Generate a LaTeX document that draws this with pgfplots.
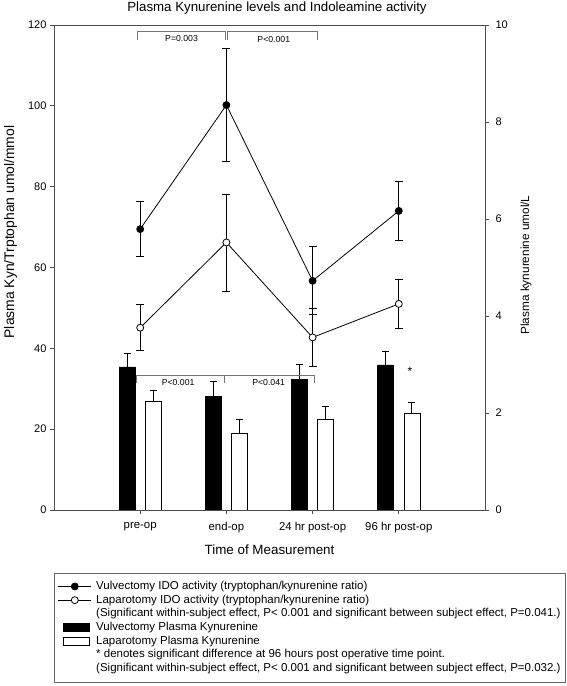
\documentclass[border=0pt]{standalone}
\usepackage{fontspec}
\setmainfont{Liberation Sans}
\usepackage{pgfplots}
\pgfplotsset{compat=1.18}
\definecolor{axgray}{gray}{0.3}
\definecolor{brgray}{gray}{0.45}
\pgfplotsset{
  mylinelegend/.style={legend image code/.code={%
    \draw[mark repeat=2,mark phase=2,##1] plot coordinates {(0pt,0pt) (16.5pt,0pt) (33pt,0pt)};}},
  mybarlegend/.style={legend image code/.code={%
    \path[draw=none, fill=none] (0pt,-4pt) rectangle (33pt,4pt);
    \draw[##1, line width=0.6pt] (5pt,-4pt) rectangle (31pt,4pt);}},
}
\begin{document}
\begin{tikzpicture}[x=1pt,y=1pt]
\path[use as bounding box] (0,0) rectangle (567,686);
% ---------- right axis: plasma kynurenine bars ----------
\begin{axis}[
  at={(54pt,176pt)}, anchor=south west,
  scale only axis, width=431pt, height=485pt,
  xmin=0, xmax=5, ymin=0, ymax=10,
  axis y line*=right, axis x line=none,
  ytick={0,2,...,10},
  tick align=outside, major tick length=4pt,
  axis line style={axgray, line width=0.8pt},
  tick style={axgray, line width=0.8pt},
  yticklabel style={font=\fontsize{11}{13}\selectfont, xshift=3pt},
  /pgf/number format/assume math mode=true,
  clip=false,
]
% Vulvectomy plasma kynurenine (black bars, left of each time point)
\addplot[ybar, bar width=16pt, bar shift=0pt, fill=black, draw=black, line width=0.6pt,
  error bars/.cd, y dir=plus, y explicit,
  error bar style={black, line width=0.8pt},
  error mark options={rotate=90, mark size=3.5pt, line width=0.8pt}]
  coordinates {(0.849,2.95) +- (0,0.27) (1.849,2.34) +- (0,0.31) (2.849,2.69) +- (0,0.31) (3.849,2.99) +- (0,0.27)};
% Laparotomy plasma kynurenine (white bars, right of each time point)
\addplot[ybar, bar width=16pt, bar shift=0pt, fill=white, draw=black, line width=0.6pt,
  error bars/.cd, y dir=plus, y explicit,
  error bar style={black, line width=0.8pt},
  error mark options={rotate=90, mark size=3.5pt, line width=0.8pt}]
  coordinates {(1.151,2.25) +- (0,0.21) (2.151,1.59) +- (0,0.27) (3.151,1.87) +- (0,0.26) (4.151,1.99) +- (0,0.23)};
\end{axis}
% ---------- left axis: IDO activity lines ----------
\begin{axis}[
  at={(54pt,176pt)}, anchor=south west,
  scale only axis, width=431pt, height=485pt,
  xmin=0, xmax=5, ymin=0, ymax=120,
  xtick={1,2,3,4}, xticklabels={pre-op,end-op,24 hr post-op,96 hr post-op},
  ytick={0,20,...,120},
  tick align=outside, xtick pos=bottom, ytick pos=left,
  major tick length=4pt,
  axis line style={axgray, line width=0.8pt},
  tick style={axgray, line width=0.8pt},
  yticklabel style={font=\fontsize{11}{13}\selectfont},
  xticklabel style={font=\fontsize{11.4}{13}\selectfont, yshift=-5pt},
  /pgf/number format/assume math mode=true,
  clip=false,
  legend style={at={(0,-0.1293)}, anchor=north west, draw=black!60, line width=0.8pt,
    font=\fontsize{11.5}{13}\selectfont, inner xsep=3.5pt, inner ysep=6.5pt,
    row sep=0pt, column sep=3.5pt,
    nodes={inner xsep=1pt, inner ysep=1.35pt, text height=8.5pt, text depth=2.5pt}},
  legend cell align=left,
]
\addplot[black, line width=0.8pt, mark=*, mark size=3.5pt, mark options={fill=black, solid}, mylinelegend,
  error bars/.cd, y dir=both, y explicit,
  error bar style={black, line width=0.8pt},
  error mark options={rotate=90, mark size=4pt, line width=0.8pt}]
  coordinates {(1,69.5) +- (0,6.8) (2,100.2) +- (0,14) (3,56.7) +- (0,8.4) (4,74) +- (0,7.3)};
\addlegendentry{Vulvectomy IDO activity (tryptophan/kynurenine ratio)}
\addplot[black, line width=0.8pt, mark=*, mark size=3.5pt, mark options={fill=white, solid}, mylinelegend,
  error bars/.cd, y dir=both, y explicit,
  error bar style={black, line width=0.8pt},
  error mark options={rotate=90, mark size=4pt, line width=0.8pt}]
  coordinates {(1,45.1) +- (0,5.7) (2,66.2) +- (0,12) (3,42.7) +- (0,7.2) (4,51) +- (0,6.1)};
\addlegendentry{Laparotomy IDO activity (tryptophan/kynurenine ratio)}
\addlegendimage{empty legend}
\addlegendentry{(Significant within-subject effect, P< 0.001 and significant between subject effect, P=0.041.)}
\addlegendimage{mybarlegend, fill=black, draw=black}
\addlegendentry{Vulvectomy Plasma Kynurenine}
\addlegendimage{mybarlegend, fill=white, draw=black}
\addlegendentry{Laparotomy Plasma Kynurenine}
\addlegendimage{empty legend}
\addlegendentry{* denotes significant difference at 96 hours post operative time point.}
\addlegendimage{empty legend}
\addlegendentry{(Significant within-subject effect, P< 0.001 and significant between subject effect, P=0.032.)}
% significance brackets (top)
\draw[brgray, line width=0.8pt] (axis cs:0.97,116.3) -- (axis cs:0.97,118.3) -- (axis cs:1.99,118.3) -- (axis cs:1.99,116.3);
\draw[brgray, line width=0.8pt] (axis cs:2.01,116.3) -- (axis cs:2.01,118.3) -- (axis cs:3.05,118.3) -- (axis cs:3.05,116.3);
\node[font=\fontsize{8.7}{10}\selectfont] at (axis cs:1.48,116.6) {P=0.003};
\node[font=\fontsize{8.7}{10}\selectfont] at (axis cs:2.55,116.3) {P<0.001};
% significance brackets (bars)
\draw[brgray, line width=0.8pt] (axis cs:0.96,31.4) -- (axis cs:0.96,33.2) -- (axis cs:3.02,33.2) -- (axis cs:3.02,31.4);
\draw[brgray, line width=0.8pt] (axis cs:1.98,33.2) -- (axis cs:1.98,31.4);
\node[font=\fontsize{8.7}{10}\selectfont] at (axis cs:1.44,31.5) {P<0.001};
\node[font=\fontsize{8.7}{10}\selectfont] at (axis cs:2.49,31.5) {P<0.041};
\node[font=\fontsize{12}{13}\selectfont] at (axis cs:4.13,34.3) {*};
\end{axis}
% titles and labels
\node[font=\fontsize{13.3}{15}\selectfont] at (277,678) {Plasma Kynurenine levels and Indoleamine activity};
\node[font=\fontsize{13.4}{15}\selectfont] at (269.5,136) {Time of Measurement};
\node[font=\fontsize{13.9}{15}\selectfont, rotate=90] at (10.5,454) {Plasma Kyn/Trptophan umol/mmol};
\node[font=\fontsize{11.8}{14}\selectfont, rotate=90] at (526,421) {Plasma kynurenine umol/L};
\end{tikzpicture}
\end{document}
